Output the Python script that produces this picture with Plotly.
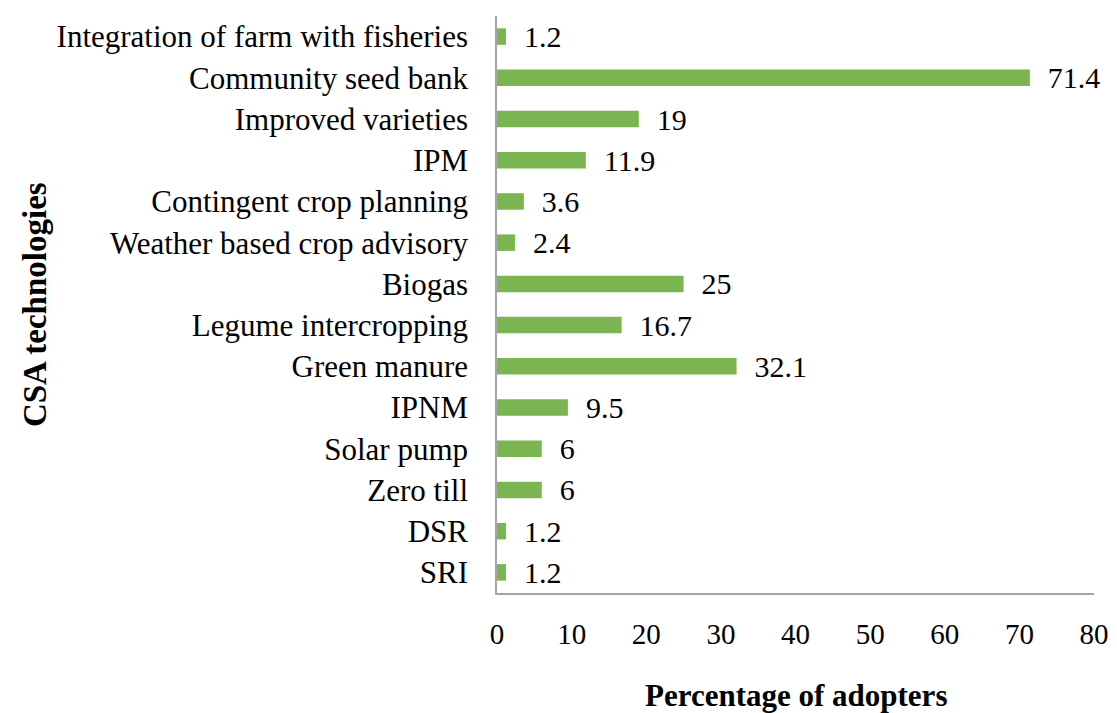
import plotly.graph_objects as go

categories = ["SRI", "DSR", "Zero till", "Solar pump", "IPNM", "Green manure",
              "Legume intercropping", "Biogas", "Weather based crop advisory",
              "Contingent crop planning", "IPM", "Improved varieties",
              "Community seed bank", "Integration of farm with fisheries"]
values = [1.2, 1.2, 6, 6, 9.5, 32.1, 16.7, 25, 2.4, 3.6, 11.9, 19, 71.4, 1.2]
x_ticks = [0, 10, 20, 30, 40, 50, 60, 70, 80]

FONT = "Liberation Serif, Times New Roman, serif"

fig = go.Figure(go.Bar(
    y=categories, x=values, orientation="h",
    marker=dict(color="#7AB552", line=dict(width=0)),
    width=0.4,
    text=[f"{v:g}" for v in values],
    texttemplate="  %{text}",
    textposition="outside",
    constraintext="none",
    textfont=dict(family=FONT, size=30, color="#000000"),
    cliponaxis=False,
))

fig.update_layout(
    width=1109, height=705,
    margin=dict(l=489, r=17, t=8, b=120),
    paper_bgcolor="white", plot_bgcolor="white",
    font=dict(family=FONT, size=30, color="#000000"),
    showlegend=False,
    xaxis=dict(range=[0, 80], tickvals=x_ticks, showgrid=False, zeroline=False,
               showline=True, linecolor="#A6A6A6", linewidth=1.5,
               ticks="", ticklabelstandoff=14,
               tickfont=dict(family=FONT, size=29, color="#000000")),
    yaxis=dict(showgrid=False, zeroline=False, showline=True, linecolor="#A6A6A6",
               linewidth=1.5, ticks="", ticklabelstandoff=21,
               categoryorder="array", categoryarray=categories,
               range=[-0.5, len(categories) - 0.5],
               tickfont=dict(family=FONT, size=31, color="#000000")),
    annotations=[
        dict(text="<b>CSA technologies</b>", xref="paper", yref="paper",
             x=-0.7745, y=0.5, textangle=-90, showarrow=False,
             font=dict(family=FONT, size=33, color="#000000"),
             xanchor="center", yanchor="middle"),
        dict(text="<b>Percentage of adopters</b>", xref="paper", yref="paper",
             x=0.5, y=-0.1768, showarrow=False,
             font=dict(family=FONT, size=31, color="#000000"),
             xanchor="center", yanchor="middle"),
    ],
)

fig.write_html("out.html")
